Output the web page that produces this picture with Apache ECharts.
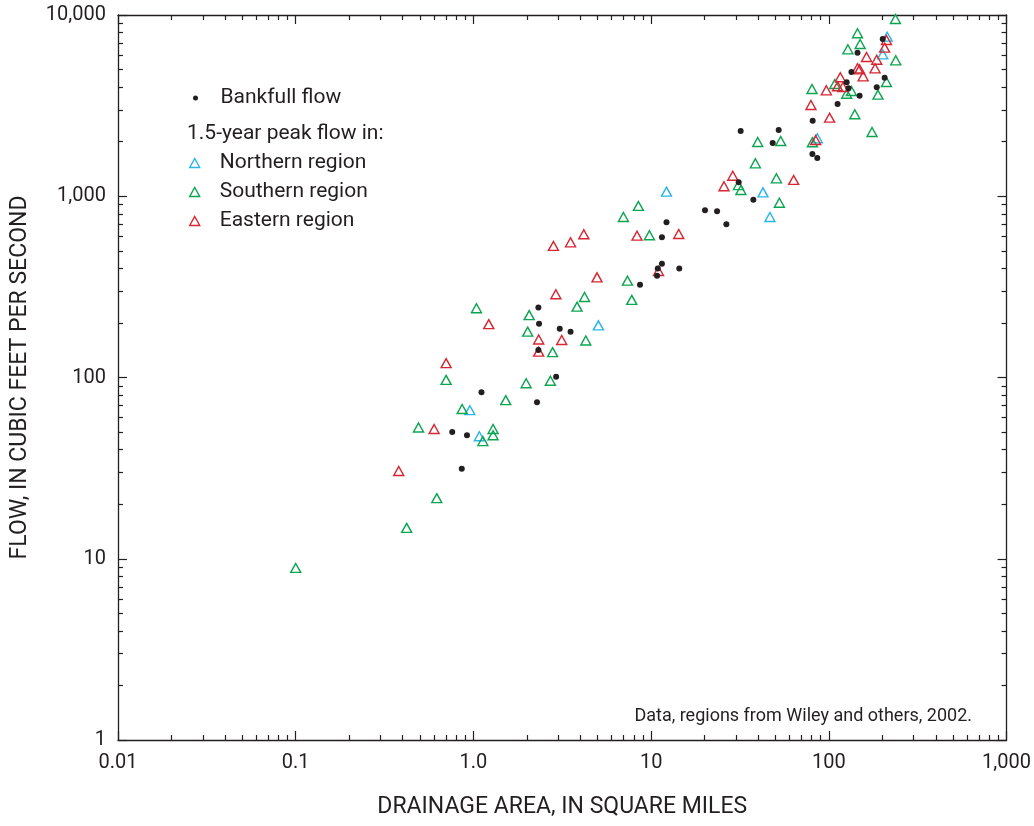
<!DOCTYPE html>
<html><head><meta charset="utf-8">
<script src="https://cdn.jsdelivr.net/npm/echarts@6/dist/echarts.min.js"></script>
<style>html,body{margin:0;padding:0;background:#fff}#c{width:1034px;height:826px}</style>
</head><body><div id="c"></div>
<script>
// ---- axis ticks ----
const xMajor = [0.01, 0.1, 1, 10, 100, 1000];
const xLabels = ['0.01', '0.1', '1.0', '10', '100', '1,000'];
const xMinor = [0.02,0.03,0.04,0.05,0.06,0.07,0.08,0.09,
                0.2,0.3,0.4,0.5,0.6,0.7,0.8,0.9,
                2,3,4,5,6,7,8,9,
                20,30,40,50,60,70,80,90,
                200,300,400,500,600,700,800,900];
const yMajor = [1, 10, 100, 1000, 10000];
const yLabels = ['1', '10', '100', '1,000', '10,000'];
const yMinor = [2,3,4,5,6,7,8,9,
                20,30,40,50,60,70,80,90,
                200,300,400,500,600,700,800,900,
                2000,3000,4000,5000,6000,7000,8000,9000];

// ---- data: drainage area (sq mi), flow (cfs) ----
const bankfullArea = [2.32,2.34,3.06,3.52,2.32,2.92,1.11,2.28,0.76,0.92,0.86,12.2,11.5,11.5,10.9,10.8,8.66,14.4,20.1,23.5,26.5,31.1,37.6,31.9,48.3,52.2,80.8,86.1,81.1,112,149,129,126,134,145,201,206,186];
const bankfullFlow = [243,198,186,179,142,101,83,73,50,48,31.4,718,594,424,400,364,325,400,837,826,700,1194,957,2290,1966,2320,1711,1626,2611,3228,3587,3942,4252,4847,6194,7371,4510,3992];

const northArea = [5.05,0.955,1.08,12.2,42.6,46.6,86.1,213,201];
const northFlow = [194,66,47.4,1060,1051,768,2088,7590,6070];

const southArea = [1.04,3.83,4.22,7.78,2.06,2.02,4.29,2.79,0.702,1.98,2.71,1.52,0.864,0.491,1.29,1.29,1.13,0.622,0.421,0.1,8.48,6.98,9.78,7.36,38.6,31.0,32.0,50.7,52.7,39.8,53.6,80.8,80.4,108,134,126,140,175,189,211,238,237,145,150,128];
const southFlow = [241,246,278,268,221,179,160,138,97,93,96,75,67,53,52,48,44.6,21.6,14.8,8.9,884,768,609,342,1520,1153,1083,1256,921,1993,2018,1985,3905,4163,3807,3679,2833,2262,3634,4269,5623,9504,7928,6918,6468];

const eastArea = [1.22,2.33,3.14,2.33,0.702,0.601,0.38,4.18,3.52,2.82,8.33,11.0,4.96,2.91,14.3,28.8,25.7,63.4,84.3,79.3,101,96.8,112,120,116,156,145,149,182,163,186,206,211];
const eastFlow = [197,162,161,139,120,52,30.5,617,557,532,606,387,357,288,619,1298,1135,1230,2043,3188,2713,3842,4044,4006,4533,4590,5080,5014,5080,5868,5666,6603,7280];

const seriesNames = ['Bankfull flow', 'Northern region', 'Southern region', 'Eastern region'];
const legendHeader = '1.5-year peak flow in:';
const noteText = 'Data, regions from Wiley and others, 2002.';
const xName = 'DRAINAGE AREA, IN SQUARE MILES';
const yName = 'FLOW, IN CUBIC FEET PER SECOND';

// ---- styles ----
const INK = '#231f20';
const FONT = 'Roboto';
const C_N = '#29b6e6', C_S = '#0ba550', C_E = '#d62631';
const TRI_ICON = 'path://M0,9 L5,0 L10,9 Z';

function zip(a, b) { return a.map((v, i) => [v, b[i]]); }
function labelFor(v, vals, labs) {
  for (let i = 0; i < vals.length; i++) {
    if (Math.abs(Math.log10(v) - Math.log10(vals[i])) < 1e-6) return labs[i];
  }
  return '';
}

const axLine = { show: true, onZero: false, lineStyle: { color: INK, width: 1.3 } };
const noLine = { show: false, onZero: false };
function xAx(pos, major, withLabel) {
  return {
    type: 'log', logBase: 10, min: 0.01, max: 1000, position: pos, gridIndex: 0,
    axisLine: major ? axLine : noLine,
    axisTick: { show: true, inside: true, length: major ? 9 : 5, customValues: major ? xMajor : xMinor,
                lineStyle: { color: INK, width: 1.2 } },
    axisLabel: withLabel ? { show: true, customValues: xMajor, margin: 13, color: INK, fontFamily: FONT, fontSize: 20,
                 formatter: v => labelFor(v, xMajor, xLabels) } : { show: false },
    splitLine: { show: false }, minorTick: { show: false },
    name: withLabel ? xName : '', nameLocation: 'middle', nameGap: 56,
    nameTextStyle: { color: INK, fontFamily: FONT, fontSize: 23 }
  };
}
function yAx(pos, major, withLabel) {
  return {
    type: 'log', logBase: 10, min: 1, max: 10000, position: pos, gridIndex: 0,
    axisLine: major ? axLine : noLine,
    axisTick: { show: true, inside: true, length: major ? 9 : 5, customValues: major ? yMajor : yMinor,
                lineStyle: { color: INK, width: 1.2 } },
    axisLabel: withLabel ? { show: true, customValues: yMajor, margin: 12, color: INK, fontFamily: FONT, fontSize: 20,
                 formatter: v => labelFor(v, yMajor, yLabels) } : { show: false },
    splitLine: { show: false }, minorTick: { show: false },
    name: withLabel ? yName : '', nameLocation: 'middle', nameGap: 86,
    nameTextStyle: { color: INK, fontFamily: FONT, fontSize: 23 }
  };
}
function tri(name, color, a, f) {
  return {
    name, type: 'scatter', xAxisIndex: 0, yAxisIndex: 0, data: zip(a, f),
    symbol: 'triangle', symbolSize: [10, 9],
    itemStyle: { color: 'rgba(0,0,0,0)', borderColor: color, borderWidth: 1.4, opacity: 1 },
    emphasis: { disabled: true }
  };
}
function triLegend(name, color) {
  return { name, icon: TRI_ICON, itemStyle: { color: 'rgba(0,0,0,0)', borderColor: color, borderWidth: 1.4 } };
}

const chart = echarts.init(document.getElementById('c'), null, { renderer: 'canvas' });
chart.setOption({
  animation: false,
  backgroundColor: '#fff',
  grid: { left: 118, right: 27, top: 15, bottom: 86, containLabel: false },
  title: [
    { text: noteText, right: 57, top: 702, textStyle: { color: INK, fontFamily: FONT, fontSize: 18, fontWeight: 'normal' } },
    { text: legendHeader, left: 182, top: 118, textStyle: { color: INK, fontFamily: FONT, fontSize: 21, fontWeight: 'normal' } }
  ],
  legend: [
    { left: 188, top: 81, orient: 'vertical', itemWidth: 40, itemHeight: 5, selectedMode: false, symbolKeepAspect: true,
      textStyle: { color: INK, fontFamily: FONT, fontSize: 21, lineHeight: 24 },
      data: [{ name: seriesNames[0], icon: 'circle', itemStyle: { color: INK } }] },
    { left: 184, top: 146, orient: 'vertical', itemWidth: 40, itemHeight: 9, itemGap: 5, selectedMode: false, symbolKeepAspect: true,
      textStyle: { color: INK, fontFamily: FONT, fontSize: 21, lineHeight: 24 },
      data: [triLegend(seriesNames[1], C_N), triLegend(seriesNames[2], C_S), triLegend(seriesNames[3], C_E)] }
  ],
  xAxis: [xAx('bottom', true, true), xAx('bottom', false, false), xAx('top', true, false), xAx('top', false, false)],
  yAxis: [yAx('left', true, true), yAx('left', false, false), yAx('right', true, false), yAx('right', false, false)],
  series: [
    tri(seriesNames[1], C_N, northArea, northFlow),
    tri(seriesNames[2], C_S, southArea, southFlow),
    tri(seriesNames[3], C_E, eastArea, eastFlow),
    { name: seriesNames[0], type: 'scatter', xAxisIndex: 0, yAxisIndex: 0, data: zip(bankfullArea, bankfullFlow),
      symbol: 'circle', symbolSize: 6, itemStyle: { color: INK, opacity: 1 }, emphasis: { disabled: true } }
  ]
});
</script></body></html>
